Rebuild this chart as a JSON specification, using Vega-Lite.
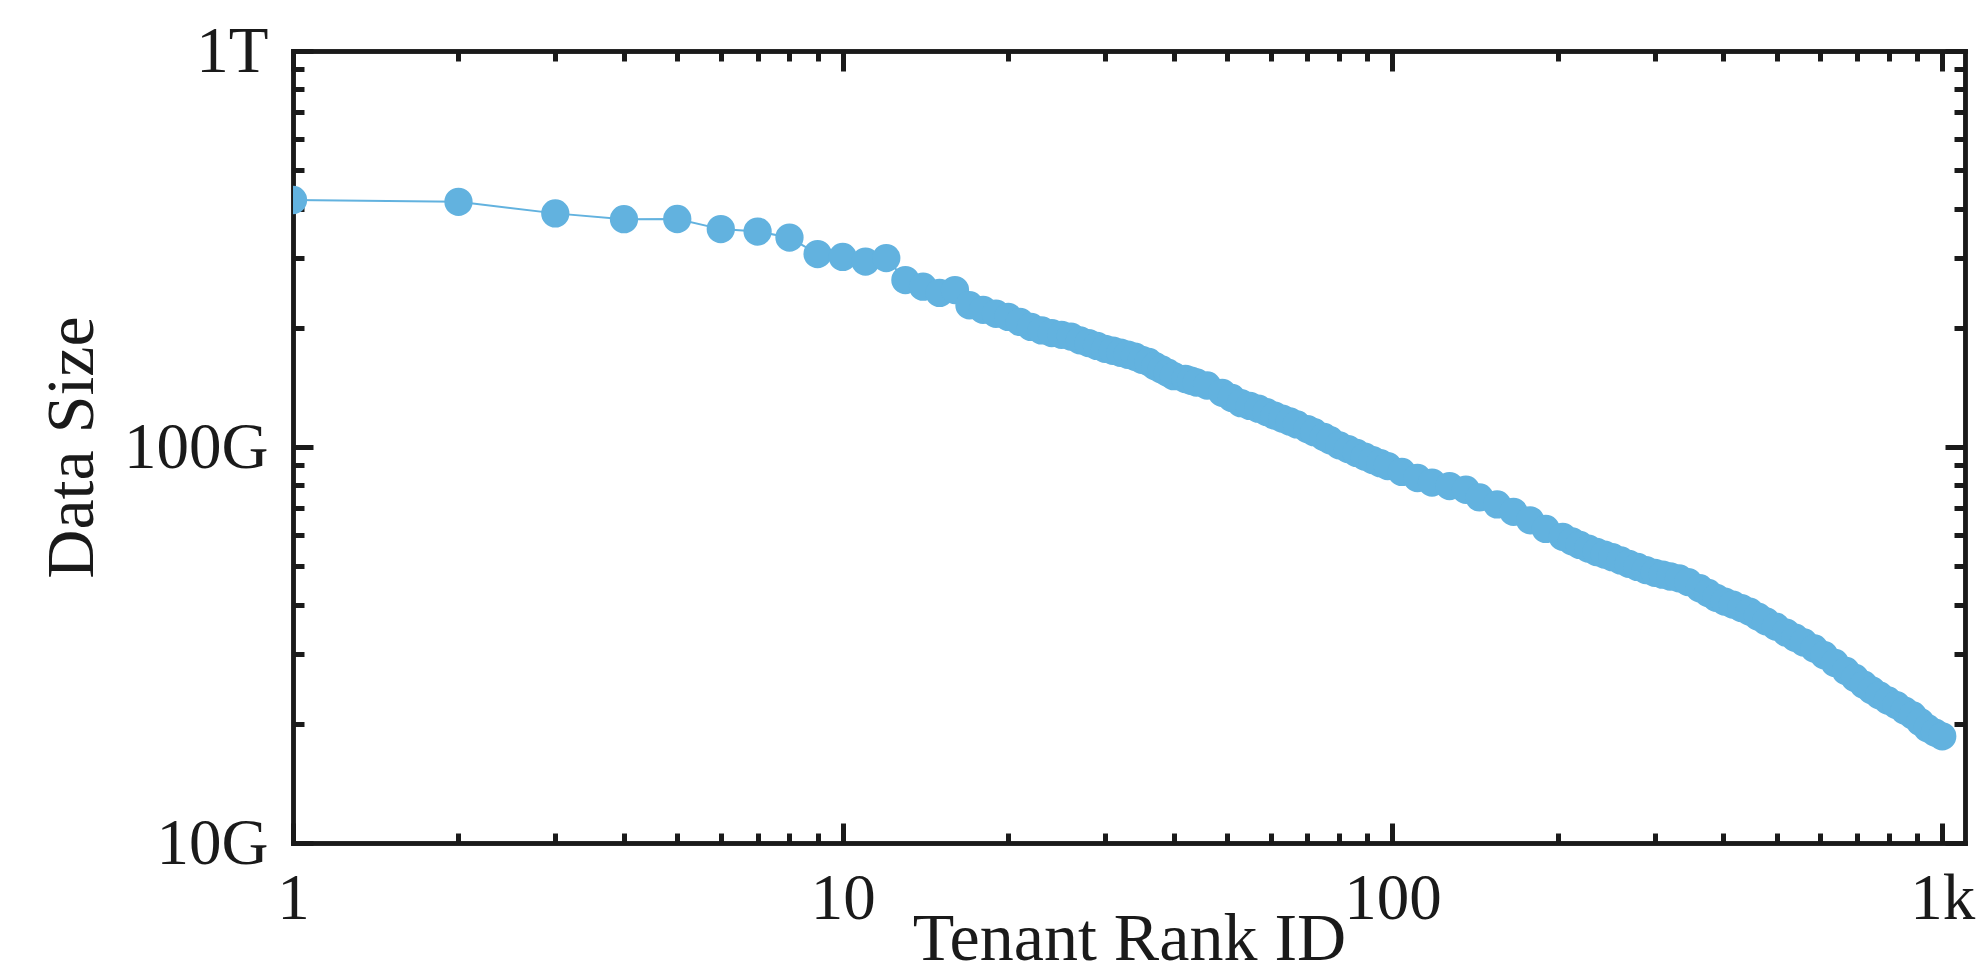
{
  "$schema": "https://vega.github.io/schema/vega-lite/v6.json",
  "width": 1672,
  "height": 792,
  "autosize": "none",
  "padding": {"left": 293, "top": 51, "right": 12, "bottom": 132},
  "background": "white",
  "config": {
    "view": {"stroke": null},
    "font": "Liberation Serif",
    "axis": {
      "grid": false,
      "domainColor": "#1a1a1a",
      "domainWidth": 4.5,
      "domainCap": "square",
      "tickColor": "#1a1a1a",
      "tickWidth": 5,
      "labelFont": "Liberation Serif",
      "labelFontSize": 65,
      "labelColor": "#1a1a1a",
      "labelFlush": false,
      "labelOverlap": false,
      "labelBound": false,
      "titleFont": "Liberation Serif",
      "titleFontSize": 68,
      "titleFontWeight": "normal",
      "titleColor": "#1a1a1a",
      "zindex": 1
    }
  },
  "data": {
    "values": [
      {"rank": 1, "size": 4.205e11}, {"rank": 2, "size": 4.16e11}, {"rank": 3, "size": 3.89e11},
      {"rank": 4, "size": 3.76e11}, {"rank": 5, "size": 3.765e11}, {"rank": 6, "size": 3.55e11},
      {"rank": 7, "size": 3.5e11}, {"rank": 8, "size": 3.38e11}, {"rank": 9, "size": 3.07e11},
      {"rank": 10, "size": 3.02e11}, {"rank": 11, "size": 2.94e11}, {"rank": 12, "size": 3.0e11},
      {"rank": 13, "size": 2.64e11}, {"rank": 14, "size": 2.54e11}, {"rank": 15, "size": 2.45e11},
      {"rank": 16, "size": 2.49e11}, {"rank": 17, "size": 2.28e11}, {"rank": 18, "size": 2.22e11},
      {"rank": 19, "size": 2.17e11}, {"rank": 20, "size": 2.13e11}, {"rank": 21, "size": 2.07e11},
      {"rank": 22, "size": 2.01e11}, {"rank": 23, "size": 1.97e11}, {"rank": 24, "size": 1.94e11},
      {"rank": 25, "size": 1.92e11}, {"rank": 26, "size": 1.9e11}, {"rank": 27, "size": 1.86e11},
      {"rank": 28, "size": 1.83e11}, {"rank": 29, "size": 1.8e11}, {"rank": 30, "size": 1.77e11},
      {"rank": 31, "size": 1.75e11}, {"rank": 32, "size": 1.73e11}, {"rank": 33, "size": 1.71e11},
      {"rank": 34, "size": 1.69e11}, {"rank": 35, "size": 1.66e11}, {"rank": 36, "size": 1.64e11},
      {"rank": 37, "size": 1.6e11}, {"rank": 38, "size": 1.57e11}, {"rank": 39, "size": 1.54e11},
      {"rank": 40, "size": 1.51e11}, {"rank": 42, "size": 1.485e11}, {"rank": 43, "size": 1.47e11},
      {"rank": 44, "size": 1.455e11}, {"rank": 46, "size": 1.43e11}, {"rank": 49, "size": 1.37e11},
      {"rank": 51, "size": 1.33e11}, {"rank": 53, "size": 1.29e11}, {"rank": 55, "size": 1.27e11},
      {"rank": 57, "size": 1.25e11}, {"rank": 59, "size": 1.225e11}, {"rank": 61, "size": 1.2e11},
      {"rank": 63, "size": 1.18e11}, {"rank": 65, "size": 1.16e11}, {"rank": 67, "size": 1.14e11},
      {"rank": 70, "size": 1.11e11}, {"rank": 72, "size": 1.09e11}, {"rank": 75, "size": 1.06e11},
      {"rank": 77, "size": 1.04e11}, {"rank": 80, "size": 1.01e11}, {"rank": 83, "size": 9.88e10},
      {"rank": 86, "size": 9.66e10}, {"rank": 89, "size": 9.46e10}, {"rank": 92, "size": 9.27e10},
      {"rank": 95, "size": 9.1e10}, {"rank": 98, "size": 8.95e10}, {"rank": 104, "size": 8.65e10},
      {"rank": 111, "size": 8.35e10}, {"rank": 118, "size": 8.13e10}, {"rank": 127, "size": 7.97e10},
      {"rank": 136, "size": 7.8e10}, {"rank": 144, "size": 7.46e10}, {"rank": 155, "size": 7.16e10},
      {"rank": 166, "size": 6.86e10}, {"rank": 178, "size": 6.53e10}, {"rank": 190, "size": 6.21e10},
      {"rank": 204, "size": 5.93e10}, {"rank": 212, "size": 5.78e10}, {"rank": 219, "size": 5.66e10},
      {"rank": 227, "size": 5.54e10}, {"rank": 235, "size": 5.43e10}, {"rank": 243, "size": 5.35e10},
      {"rank": 251, "size": 5.27e10}, {"rank": 260, "size": 5.17e10}, {"rank": 269, "size": 5.07e10},
      {"rank": 279, "size": 4.98e10}, {"rank": 289, "size": 4.89e10}, {"rank": 300, "size": 4.81e10},
      {"rank": 310, "size": 4.76e10}, {"rank": 320, "size": 4.71e10}, {"rank": 332, "size": 4.66e10},
      {"rank": 345, "size": 4.56e10}, {"rank": 362, "size": 4.4e10}, {"rank": 375, "size": 4.28e10},
      {"rank": 388, "size": 4.16e10}, {"rank": 402, "size": 4.07e10}, {"rank": 416, "size": 4.0e10},
      {"rank": 431, "size": 3.92e10}, {"rank": 446, "size": 3.84e10}, {"rank": 462, "size": 3.73e10},
      {"rank": 478, "size": 3.63e10}, {"rank": 498, "size": 3.52e10}, {"rank": 520, "size": 3.4e10},
      {"rank": 540, "size": 3.3e10}, {"rank": 560, "size": 3.21e10}, {"rank": 585, "size": 3.1e10},
      {"rank": 610, "size": 2.98e10}, {"rank": 638, "size": 2.85e10}, {"rank": 668, "size": 2.72e10},
      {"rank": 694, "size": 2.61e10}, {"rank": 720, "size": 2.51e10}, {"rank": 744, "size": 2.43e10},
      {"rank": 768, "size": 2.36e10}, {"rank": 796, "size": 2.29e10}, {"rank": 825, "size": 2.23e10},
      {"rank": 854, "size": 2.16e10}, {"rank": 884, "size": 2.1e10}, {"rank": 912, "size": 2.02e10},
      {"rank": 940, "size": 1.95e10}, {"rank": 970, "size": 1.9e10}, {"rank": 1000, "size": 1.86e10}
    ]
  },
  "layer": [
    {
      "mark": {"type": "line", "color": "#62b2df", "strokeWidth": 2, "clip": true},
      "encoding": {
        "x": {
          "field": "rank", "type": "quantitative",
          "scale": {"type": "log", "domain": [1, 1100], "nice": false},
          "axis": {
            "orient": "bottom", "values": [1, 10, 100, 1000],
            "labelExpr": "datum.value == 1000 ? '1k' : format(datum.value, 'd')",
            "tickSize": -20, "labelPadding": 95, "labelBaseline": "alphabetic",
            "title": "Tenant Rank ID", "titleY": 116, "titleBaseline": "alphabetic"
          }
        },
        "y": {
          "field": "size", "type": "quantitative",
          "scale": {"type": "log", "domain": [1e10, 1e12], "nice": false},
          "axis": {
            "orient": "left", "values": [1e10, 1e11, 1e12],
            "labelExpr": "datum.value >= 1e12 ? '1T' : datum.value >= 1e11 ? '100G' : '10G'",
            "tickSize": -20, "labelPadding": 45,
            "title": "Data Size", "titleX": -201, "titleBaseline": "alphabetic", "titleAngle": -90
          }
        }
      }
    },
    {
      "mark": {"type": "point", "filled": true, "color": "#62b2df", "opacity": 1, "size": 800, "strokeWidth": 0, "clip": true},
      "encoding": {
        "x": {
          "field": "rank", "type": "quantitative",
          "scale": {"type": "log", "domain": [1, 1100], "nice": false},
          "axis": {"orient": "top", "values": [1, 10, 100, 1000], "labels": false, "tickSize": -20, "title": null}
        },
        "y": {
          "field": "size", "type": "quantitative",
          "scale": {"type": "log", "domain": [1e10, 1e12], "nice": false},
          "axis": {"orient": "right", "values": [1e10, 1e11, 1e12], "labels": false, "tickSize": -20, "title": null}
        }
      }
    },
    {
      "mark": {"type": "point", "opacity": 0},
      "encoding": {
        "x": {
          "field": "rank", "type": "quantitative",
          "scale": {"type": "log", "domain": [1, 1100], "nice": false},
          "axis": {"orient": "bottom", "values": [2, 3, 4, 5, 6, 7, 8, 9, 20, 30, 40, 50, 60, 70, 80, 90, 200, 300, 400, 500, 600, 700, 800, 900], "labels": false, "tickSize": -10, "title": null}
        },
        "y": {
          "field": "size", "type": "quantitative",
          "scale": {"type": "log", "domain": [1e10, 1e12], "nice": false},
          "axis": {"orient": "left", "values": [2e10, 3e10, 4e10, 5e10, 6e10, 7e10, 8e10, 9e10, 2e11, 3e11, 4e11, 5e11, 6e11, 7e11, 8e11, 9e11], "labels": false, "tickSize": -11, "title": null}
        }
      }
    },
    {
      "mark": {"type": "point", "opacity": 0},
      "encoding": {
        "x": {
          "field": "rank", "type": "quantitative",
          "scale": {"type": "log", "domain": [1, 1100], "nice": false},
          "axis": {"orient": "top", "values": [2, 3, 4, 5, 6, 7, 8, 9, 20, 30, 40, 50, 60, 70, 80, 90, 200, 300, 400, 500, 600, 700, 800, 900], "labels": false, "tickSize": -10, "title": null}
        },
        "y": {
          "field": "size", "type": "quantitative",
          "scale": {"type": "log", "domain": [1e10, 1e12], "nice": false},
          "axis": {"orient": "right", "values": [2e10, 3e10, 4e10, 5e10, 6e10, 7e10, 8e10, 9e10, 2e11, 3e11, 4e11, 5e11, 6e11, 7e11, 8e11, 9e11], "labels": false, "tickSize": -11, "title": null}
        }
      }
    }
  ],
  "resolve": {"axis": {"x": "independent", "y": "independent"}}
}
